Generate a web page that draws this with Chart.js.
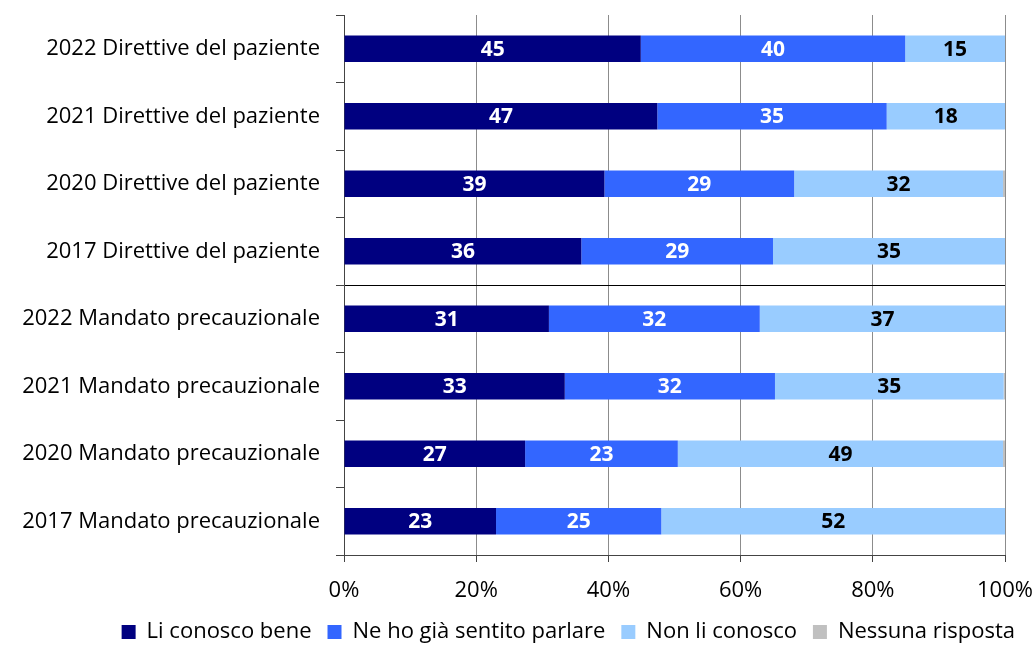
<!DOCTYPE html>
<html>
<head>
<meta charset="utf-8">
<script src="https://cdn.jsdelivr.net/npm/chart.js@4.4.0/dist/chart.umd.min.js"></script>
<style>
  html, body { margin: 0; padding: 0; background: #fff; }
  #wrap { width: 1035px; height: 645px; }
</style>
</head>
<body>
<div id="wrap"><canvas id="chart"></canvas></div>
<script>
const categories = [
  '2022 Direttive del paziente',
  '2021 Direttive del paziente',
  '2020 Direttive del paziente',
  '2017 Direttive del paziente',
  '2022 Mandato precauzionale',
  '2021 Mandato precauzionale',
  '2020 Mandato precauzionale',
  '2017 Mandato precauzionale'
];
const seriesNames = ['Li conosco bene', 'Ne ho già sentito parlare', 'Non li conosco', 'Nessuna risposta'];
const conoscoBene = [44.9, 47.4, 39.4, 35.9, 31.0, 33.4, 27.4, 23.0];
const sentitoParlare = [40.0, 34.7, 28.7, 29.0, 31.9, 31.8, 23.1, 25.0];
const nonConosco = [15.1, 17.9, 31.6, 35.1, 37.1, 34.6, 49.2, 52.0];
const nessunaRisposta = [0, 0, 0.3, 0, 0, 0.2, 0.3, 0];
const xTicks = [0, 20, 40, 60, 80, 100];

const colors = ['#000080', '#3366FF', '#99CCFF', '#C0C0C0'];
const labelColors = ['#fff', '#fff', '#000', null];

const FONT = '"Open Sans", "Liberation Sans", sans-serif';

// draws the rounded value in the middle of each segment
const valueLabels = {
  id: 'valueLabels',
  afterDatasetsDraw(chart) {
    const ctx = chart.ctx;
    ctx.save();
    ctx.font = 'bold 21px ' + FONT;
    ctx.textAlign = 'center';
    ctx.textBaseline = 'middle';
    chart.data.datasets.forEach((ds, i) => {
      if (!labelColors[i]) return;
      const meta = chart.getDatasetMeta(i);
      meta.data.forEach((bar, j) => {
        const v = ds.data[j];
        if (v < 3) return;
        const cx = (bar.x + bar.base) / 2;
        ctx.fillStyle = labelColors[i];
        ctx.fillText(Math.round(v), cx, bar.y + 1);
      });
    });
    ctx.restore();
  }
};

// nudge the legend a bit to the right, like the original
const legendShift = {
  id: 'legendShift',
  afterLayout(chart) {
    if (chart.legend) {
      chart.legend.left += 26;
      chart.legend.right += 26;
    }
  }
};

new Chart(document.getElementById('chart'), {
  type: 'bar',
  data: {
    labels: categories,
    datasets: [conoscoBene, sentitoParlare, nonConosco, nessunaRisposta].map((d, i) => ({
      label: seriesNames[i],
      data: d,
      backgroundColor: colors[i],
      borderWidth: 0,
      barPercentage: 0.39,
      categoryPercentage: 1
    }))
  },
  options: {
    indexAxis: 'y',
    responsive: true,
    maintainAspectRatio: false,
    animation: false,
    layout: { padding: { top: 15, right: 30, left: 0, bottom: -8 } },
    scales: {
      x: {
        stacked: true,
        min: 0,
        max: 100,
        afterBuildTicks: s => { s.ticks = xTicks.map(v => ({ value: v })); },
        afterFit: s => { s.height = 50; s.paddingLeft = 0; s.paddingRight = 0; },
        grid: { color: '#8c8c8c', tickColor: '#444', tickLength: 7, lineWidth: 1 },
        border: { color: '#444', width: 1 },
        ticks: {
          callback: v => v + '%',
          color: '#000',
          font: { family: FONT, size: 22 },
          padding: 16
        }
      },
      y: {
        stacked: true,
        afterFit: s => { s.width = 344; s.paddingTop = 0; s.paddingBottom = 0; },
        grid: {
          offset: true,
          color: c => c.index === 4 ? '#000' : 'rgba(0,0,0,0)',
          tickColor: '#444',
          tickLength: 8
        },
        border: { color: '#444', width: 1 },
        ticks: {
          color: '#000',
          font: { family: FONT, size: 22 },
          padding: 16
        }
      }
    },
    plugins: {
      legend: {
        position: 'bottom',
        align: 'end',
        labels: {
          color: '#000',
          font: { family: FONT, size: 22 },
          boxWidth: 14,
          boxHeight: 14,
          padding: 16
        }
      },
      tooltip: { enabled: false }
    }
  },
  plugins: [valueLabels, legendShift]
});
</script>
</body>
</html>
